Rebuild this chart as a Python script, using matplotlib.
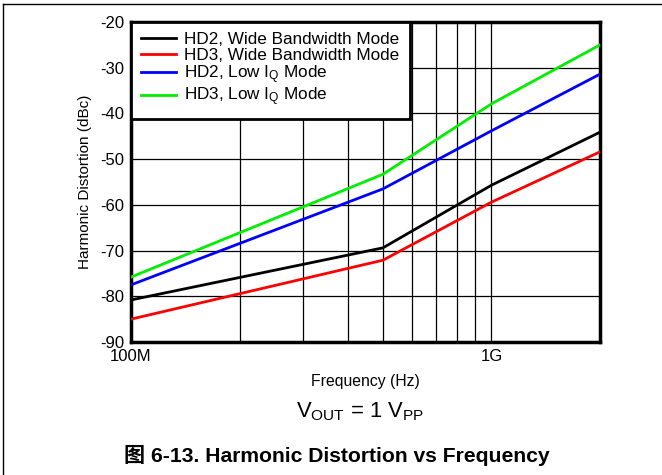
import matplotlib.pyplot as plt
from matplotlib.ticker import FixedLocator, NullFormatter
from matplotlib.lines import Line2D

plt.rcParams['font.family'] = ['Liberation Sans', 'Noto Sans CJK SC', 'DejaVu Sans']
plt.rcParams['mathtext.fontset'] = 'custom'
plt.rcParams['mathtext.rm'] = 'Liberation Sans'
plt.rcParams['mathtext.it'] = 'Liberation Sans:italic'
plt.rcParams['axes.unicode_minus'] = False

# frequency points (Hz) and distortion (dBc)
freq = [100e6, 500e6, 1e9, 2e9]
hd2_wide = [-80.8, -69.4, -55.7, -44.1]
hd3_wide = [-85.0, -72.1, -59.4, -48.4]
hd2_lowiq = [-77.5, -56.5, -43.8, -31.4]
hd3_lowiq = [-75.8, -53.3, -37.9, -25.0]

series = [
    (hd2_wide, 'black', 'HD2, Wide Bandwidth Mode'),
    (hd3_wide, 'red', 'HD3, Wide Bandwidth Mode'),
    (hd2_lowiq, 'blue', r'HD2, Low I$_\mathregular{Q}$ Mode'),
    (hd3_lowiq, '#00ee00', r'HD3, Low I$_\mathregular{Q}$ Mode'),
]

fig = plt.figure(figsize=(6.62, 4.75), dpi=100)
ax = fig.add_axes([131 / 662, 1 - 342 / 475, 469 / 662, 320 / 475])

for y, c, lab in series:
    ax.plot(freq, y, color=c, lw=2, label=lab, zorder=3)

ax.set_xscale('log')
ax.set_xlim(100e6, 2e9)
ax.set_ylim(-90, -20)

# grid at every 100M step up to 1G, then 2G
grid_x = [k * 1e8 for k in range(1, 10)] + [1e9, 2e9]
ax.xaxis.set_major_locator(FixedLocator([1e8, 1e9]))
ax.xaxis.set_minor_locator(FixedLocator(grid_x))
ax.xaxis.set_minor_formatter(NullFormatter())
ax.set_xticklabels(['100M', '1G'])
ax.set_yticks(range(-90, -19, 10))
ax.grid(True, which='both', color='black', lw=0.9)
ax.tick_params(which='both', length=0, labelsize=12, pad=5)

for s in ax.spines.values():
    s.set_linewidth(2.5)

ax.set_xlabel('Frequency (Hz)', fontsize=11.3, labelpad=7)
ax.set_ylabel('Harmonic Distortion (dBc)', fontsize=11, labelpad=6)

leg = ax.legend(loc='upper left', fontsize=12.3, frameon=True, fancybox=False,
                borderaxespad=0, handlelength=2.05, labelspacing=0.02,
                borderpad=0.6, handletextpad=0.47)
leg.get_frame().set_edgecolor('black')
leg.get_frame().set_linewidth(2)
leg.get_frame().set_alpha(1)

fig.text(360 / 662, 1 - 412 / 475, r'$\mathregular{V_{OUT}}$ = 1 $\mathregular{V_{PP}}$',
         ha='center', va='center', fontsize=15.8)
fig.text(337 / 662, 1 - 455 / 475, '图 6-13. Harmonic Distortion vs Frequency',
         ha='center', va='center', fontsize=15.2, fontweight='bold')

# page border lines
fig.add_artist(Line2D([3 / 662, 1], [1 - 4 / 475, 1 - 4 / 475], color='black', lw=1))
fig.add_artist(Line2D([3 / 662, 3 / 662], [0, 1 - 4 / 475], color='black', lw=1))

fig.savefig('out.png', dpi=100)
